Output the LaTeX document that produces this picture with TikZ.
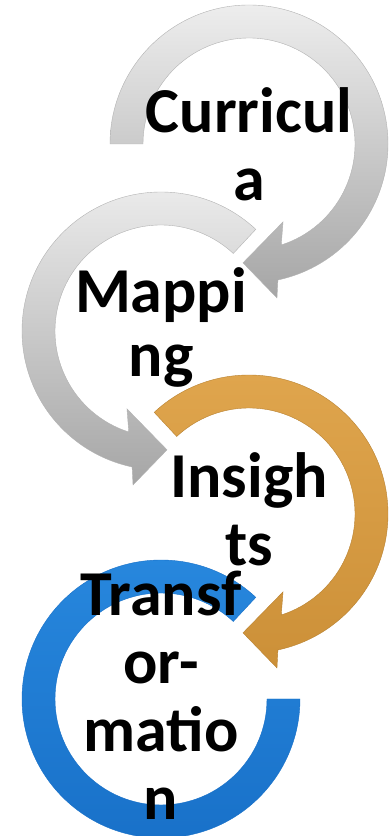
\documentclass[tikz,border=0pt]{standalone}
\usepackage{fontspec}
\setmainfont{Carlito}
\usetikzlibrary{calc}
\definecolor{ochre}{RGB}{224,166,78}
\definecolor{ochredark}{RGB}{204,144,56}
\definecolor{skyblue}{RGB}{40,136,222}
\definecolor{skybluedark}{RGB}{24,112,200}
% band from start angle, clockwise, head at the bottom
\def\bendarrow[#1](#2)(#3){\path[#1] ($(#2)+(#3:139)$) arc (#3:-78:139) -- ($(#2)+(-79.7:156.5)$) -- ($(#2)+(-92.9:119)$) -- ($(#2)+(-66.4:85)$) -- ($(#2)+(-72.3:106)$) arc (-72.3:#3:106) -- cycle;}
\tikzset{
  greyarrow/.style={top color=black!7, bottom color=black!35, draw=black!30, line width=0.4pt},
  ochrearrow/.style={top color=ochre, bottom color=ochredark, draw=ochredark!90!black, line width=0.4pt},
  bluering/.style={top color=skyblue, bottom color=skybluedark, draw=skybluedark, line width=0.4pt},
  steplabel/.style={font=\bfseries\fontsize{64}{68}\selectfont, align=center, inner sep=0pt}
}
\begin{document}
\begin{tikzpicture}[x=1pt, y=1pt]
			%%%%% START %%%%%
			\useasboundingbox (0, 0) rectangle (391, 836);
			
			\coordinate (c1) at (249, 692);
			\coordinate (c2) at (161, 505);
			\coordinate (c3) at (249, 322);
			\coordinate (c4) at (161, 137);
			
			\bendarrow[greyarrow](c1)(180);
			
			\begin{scope}[shift={(c2)}, xscale=-1]
				\bendarrow[greyarrow](0, 0)(133);
			\end{scope}
			
			\bendarrow[ochrearrow](c3)(133);
			
			\path[bluering] ($(c4)+(47:139)$) arc (47:360:139) -- ($(c4)+(0:106)$) arc (360:47:106) -- cycle;
			
			\node[steplabel] (curricula) at (c1) {Curricul\\a};
			\node[steplabel, font=\bfseries\fontsize{64}{64}\selectfont] (mapping) at ($(c2)+(0, 4)$) {Mappi\\ng};
			\node[steplabel] (insights) at ($(c3)+(0, 5)$) {Insigh\\ts};
			\node[steplabel] (transformation) at ($(c4)+(0, 4)$) {Transf\\or-\\matio\\n};
			
			%%%%% END %%%%%
		\end{tikzpicture}
\end{document}
